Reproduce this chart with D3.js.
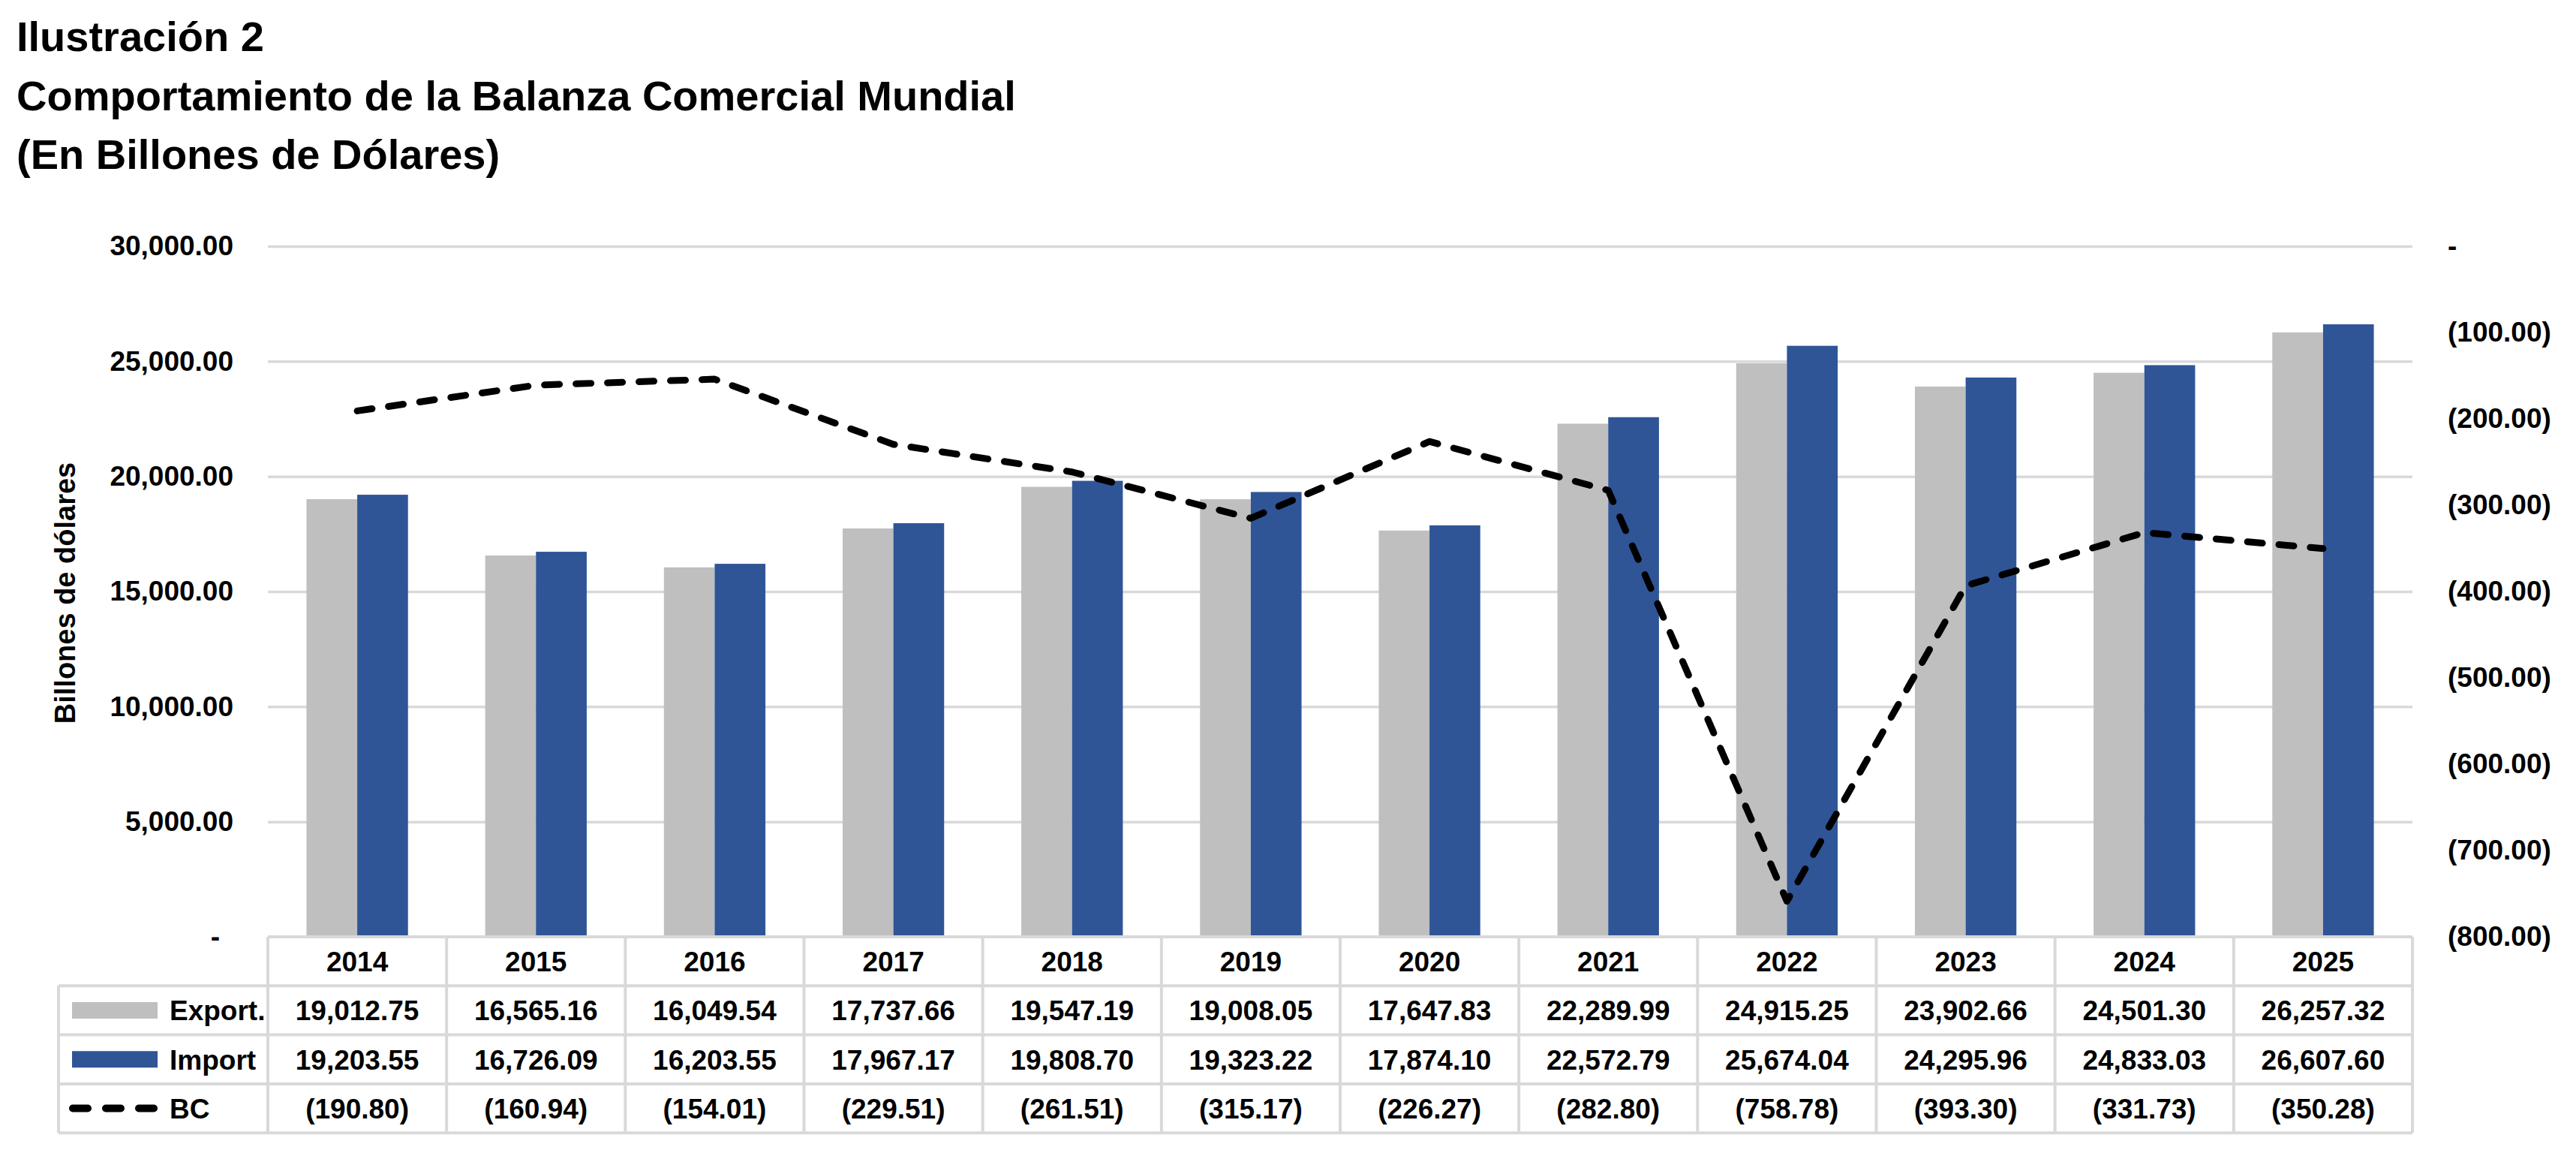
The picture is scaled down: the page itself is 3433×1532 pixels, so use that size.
<!DOCTYPE html>
<html>
<head>
<meta charset="utf-8">
<script src="https://cdn.jsdelivr.net/npm/d3@7"></script>
<style>
  body { margin: 0; background: #fff; }
  svg text { font-family: "Liberation Sans", Arial, sans-serif; font-weight: bold; fill: #000; }
</style>
</head>
<body>
<div id="chart"></div>
<script>

// chart data
var years = ["2014", "2015", "2016", "2017", "2018", "2019", "2020", "2021", "2022", "2023", "2024", "2025"];
var exportVals = [19012.75, 16565.16, 16049.54, 17737.66, 19547.19, 19008.05, 17647.83, 22289.99, 24915.25, 23902.66, 24501.30, 26257.32];
var importVals = [19203.55, 16726.09, 16203.55, 17967.17, 19808.70, 19323.22, 17874.10, 22572.79, 25674.04, 24295.96, 24833.03, 26607.60];
var bcVals = [-190.80, -160.94, -154.01, -229.51, -261.51, -315.17, -226.27, -282.80, -758.78, -393.30, -331.73, -350.28];
var leftTicks = [0, 5000, 10000, 15000, 20000, 25000, 30000];
var rightTicks = [0, -100, -200, -300, -400, -500, -600, -700, -800];
var titleLines = ["Ilustración 2", "Comportamiento de la Balanza Comercial Mundial", "(En Billones de Dólares)"];
var seriesNames = ["Export.", "Import", "BC"];

var W = 3433, H = 1532;
var plot = { left: 357, right: 3215, top: 328, bottom: 1248 };
var rowH = 65.3;
var fs = 37;
var colors = { exp: "#BFBFBF", imp: "#2F5597", grid: "#D9D9D9" };

var svg = d3.select("#chart").append("svg")
    .attr("width", W)
    .attr("height", H);

svg.append("rect").attr("width", W).attr("height", H).attr("fill", "#fff");

// titles
svg.selectAll(".title")
  .data(titleLines)
  .enter().append("text")
    .attr("class", "title")
    .attr("x", 22)
    .attr("y", function(d, i) { return 68 + i * 78.5; })
    .style("font-size", "56px")
    .text(function(d) { return d; });

var x = d3.scaleBand().domain(years).range([plot.left, plot.right]).padding(0);
var y = d3.scaleLinear().domain([0, 30000]).range([plot.bottom, plot.top]);
var y2 = d3.scaleLinear().domain([0, -800]).range([plot.top, plot.bottom]);

var fmt = d3.format(",.2f");
function acct(v) {
    if (v === 0) return "-";
    return v < 0 ? "(" + fmt(-v) + ")" : fmt(v);
}

// gridlines
svg.append("g")
    .attr("class", "grid")
    .attr("transform", "translate(" + plot.left + ",0)")
    .call(d3.axisLeft(y).tickValues(leftTicks.slice(1)).tickSize(-(plot.right - plot.left)).tickFormat(""))
    .call(function(g) { g.select(".domain").remove(); })
    .selectAll("line")
      .attr("stroke", colors.grid)
      .attr("stroke-width", 3.5);

// left axis labels
var leftAxis = svg.append("g")
    .attr("transform", "translate(311,0)")
    .call(d3.axisLeft(y).tickValues(leftTicks).tickSize(0).tickPadding(0).tickFormat(acct));
leftAxis.select(".domain").remove();
leftAxis.selectAll("text")
    .style("font-size", fs + "px")
    .attr("dx", function(d) { return d === 0 ? -18 : 0; });

// right axis labels
var rightAxis = svg.append("g")
    .attr("transform", "translate(3262,0)")
    .call(d3.axisRight(y2).tickValues(rightTicks).tickSize(0).tickPadding(0).tickFormat(acct));
rightAxis.select(".domain").remove();
rightAxis.selectAll("text").style("font-size", fs + "px");

// y axis title
svg.append("text")
    .attr("transform", "translate(100,790) rotate(-90)")
    .attr("text-anchor", "middle")
    .style("font-size", "38px")
    .text("Billones de dólares");

// bars
var barW = x.bandwidth() * 0.284;

svg.selectAll(".bar-exp")
  .data(exportVals)
  .enter().append("rect")
    .attr("class", "bar-exp")
    .attr("x", function(d, i) { return x(years[i]) + x.bandwidth() / 2 - barW; })
    .attr("y", function(d) { return y(d); })
    .attr("width", barW)
    .attr("height", function(d) { return y(0) - y(d); })
    .attr("fill", colors.exp);

svg.selectAll(".bar-imp")
  .data(importVals)
  .enter().append("rect")
    .attr("class", "bar-imp")
    .attr("x", function(d, i) { return x(years[i]) + x.bandwidth() / 2; })
    .attr("y", function(d) { return y(d); })
    .attr("width", barW)
    .attr("height", function(d) { return y(0) - y(d); })
    .attr("fill", colors.imp);

// BC line on the secondary axis
var line = d3.line()
    .x(function(d, i) { return x(years[i]) + x.bandwidth() / 2; })
    .y(function(d) { return y2(d); });

svg.append("path")
    .datum(bcVals)
    .attr("d", line)
    .attr("fill", "none")
    .attr("stroke", "#000")
    .attr("stroke-width", 9)
    .attr("stroke-linecap", "round")
    .attr("stroke-linejoin", "round")
    .attr("stroke-dasharray", "20,22");

// data table
var tbl = svg.append("g").attr("class", "table");
var tTop = plot.bottom, legendLeft = 78;
var rows = [exportVals, importVals, bcVals];

// horizontal borders
tbl.append("line")
    .attr("x1", plot.left).attr("x2", plot.right)
    .attr("y1", tTop).attr("y2", tTop);
[1, 2, 3, 4].forEach(function(r) {
    tbl.append("line")
        .attr("x1", legendLeft).attr("x2", plot.right)
        .attr("y1", tTop + r * rowH).attr("y2", tTop + r * rowH);
});
// vertical borders
years.forEach(function(yr) {
    tbl.append("line")
        .attr("x1", x(yr)).attr("x2", x(yr))
        .attr("y1", tTop).attr("y2", tTop + 4 * rowH);
});
tbl.append("line")
    .attr("x1", plot.right).attr("x2", plot.right)
    .attr("y1", tTop).attr("y2", tTop + 4 * rowH);
tbl.append("line")
    .attr("x1", legendLeft).attr("x2", legendLeft)
    .attr("y1", tTop + rowH).attr("y2", tTop + 4 * rowH);
tbl.selectAll("line")
    .attr("stroke", colors.grid)
    .attr("stroke-width", 4);

// header years
tbl.selectAll(".yr")
  .data(years)
  .enter().append("text")
    .attr("class", "yr")
    .attr("x", function(d) { return x(d) + x.bandwidth() / 2; })
    .attr("y", tTop + rowH / 2 + fs * 0.36)
    .attr("text-anchor", "middle")
    .style("font-size", fs + "px")
    .text(function(d) { return d; });

// values
rows.forEach(function(vals, r) {
    tbl.selectAll(".v" + r)
      .data(vals)
      .enter().append("text")
        .attr("class", "v" + r)
        .attr("x", function(d, i) { return x(years[i]) + x.bandwidth() / 2; })
        .attr("y", tTop + (r + 1.5) * rowH + fs * 0.36)
        .attr("text-anchor", "middle")
        .style("font-size", fs + "px")
        .text(function(d) { return acct(d); });
});

// legend keys
seriesNames.forEach(function(name, r) {
    var cy = tTop + (r + 1.5) * rowH;
    if (r < 2) {
        tbl.append("rect")
            .attr("x", 96).attr("y", cy - 11)
            .attr("width", 114).attr("height", 22)
            .attr("fill", r === 0 ? colors.exp : colors.imp);
    } else {
        tbl.append("line")
            .attr("x1", 97).attr("x2", 205)
            .attr("y1", cy).attr("y2", cy)
            .attr("stroke", "#000")
            .attr("stroke-width", 10)
            .attr("stroke-linecap", "round")
            .attr("stroke-dasharray", "20,24");
    }
    tbl.append("text")
        .attr("x", 226)
        .attr("y", cy + fs * 0.36)
        .style("font-size", fs + "px")
        .text(name);
});

</script>
</body>
</html>
